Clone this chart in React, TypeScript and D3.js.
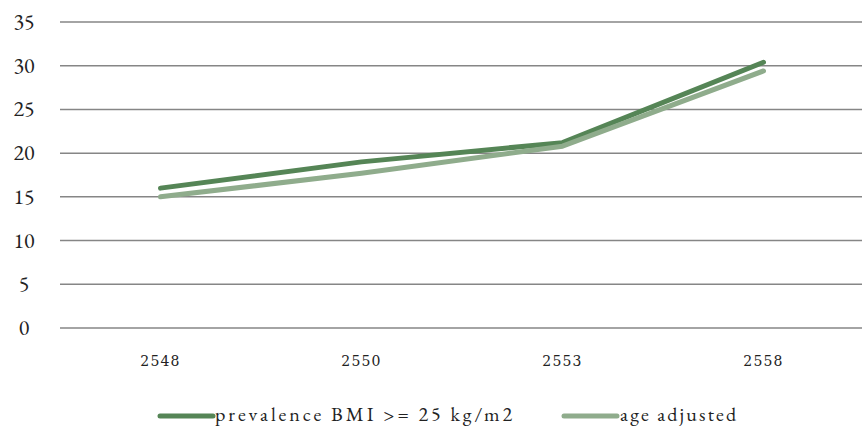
import React from "react";
import * as d3 from "d3";

const categories = ["2548", "2550", "2553", "2558"];
const prevalence = [16.0, 19.0, 21.2, 30.4];
const ageAdjusted = [15.0, 17.7, 20.8, 29.4];
const yTicks = [0, 5, 10, 15, 20, 25, 30, 35];
const seriesNames = ["prevalence BMI >= 25 kg/m2", "age adjusted"];
const colors = ["#558556", "#8fac8c"];

export default function App() {
  const W = 862, H = 428;
  const x = d3.scaleBand().domain(categories).range([60, 864]);
  const y = d3.scaleLinear().domain([0, 35]).range([328, 22]);
  const line = d3
    .line<number>()
    .x((_, i) => (x(categories[i]) as number) + x.bandwidth() / 2)
    .y((d) => y(d));
  const series = [prevalence, ageAdjusted];
  const serif = "'EB Garamond', Garamond, 'Liberation Serif', 'DejaVu Serif', serif";
  const legend = [
    { x0: 160, tx: 215, len: 297 },
    { x0: 564, tx: 620, len: 116 },
  ];
  return (
    <svg width={W} height={H} style={{ position: "absolute", left: 0, top: 0 }}>
      <rect width={W} height={H} fill="#fff" />
      {yTicks.map((t) => (
        <g key={t}>
          <line x1={60} x2={862} y1={y(t)} y2={y(t)} stroke="#868686" strokeWidth={1.5} />
          <text x={24} y={y(t) + 7} fontSize={22} fontFamily={serif} fill="#222" textAnchor="middle">
            {t}
          </text>
        </g>
      ))}
      {categories.map((c) => (
        <text
          key={c}
          x={(x(c) as number) + x.bandwidth() / 2}
          y={366}
          fontSize={14}
          fontFamily="'DejaVu Serif', serif"
          fill="#222"
          textAnchor="middle"
          letterSpacing={1.2}
        >
          {c}
        </text>
      ))}
      {series.map((s, i) => (
        <path
          key={i}
          d={line(s) as string}
          fill="none"
          stroke={colors[i]}
          strokeWidth={5}
          strokeLinecap="round"
          strokeLinejoin="round"
        />
      ))}
      {legend.map((l, i) => (
        <g key={i}>
          <line x1={l.x0} x2={l.x0 + 53} y1={416} y2={416} stroke={colors[i]} strokeWidth={5} strokeLinecap="round" />
          <text
            x={l.tx}
            y={421}
            fontSize={20}
            fontFamily={serif}
            fill="#222"
            textLength={l.len}
            lengthAdjust="spacing"
          >
            {seriesNames[i]}
          </text>
        </g>
      ))}
    </svg>
  );
}
